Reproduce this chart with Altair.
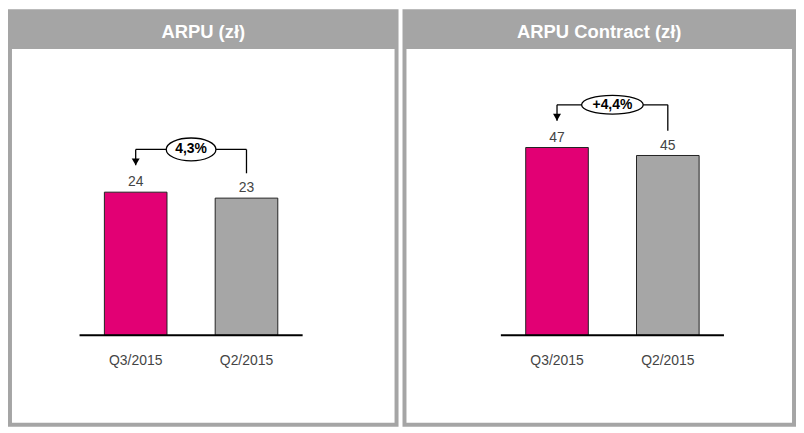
import altair as alt
import pandas as pd

# ---- data ----
categories = ["Q3/2015", "Q2/2015"]
positions = [0, 1]
arpu = [24, 23]
arpu_contract = [47, 45]
changes = ["4,3%", "+4,4%"]
titles = ["ARPU (zł)", "ARPU Contract (zł)"]

MAGENTA = "#E20074"
BARGRAY = "#A6A6A6"
FRAME = "#A5A5A5"
H = 420
HEADER = 40
ZERO_PX = 328


def panel(title, values, change, W, c0, c1, ppu, ell_w, ell_h):
    xs = alt.Scale(domain=[0, 1], range=[c0, c1], nice=False, zero=False, padding=0)
    ys = alt.Scale(domain=[0, 50], range=[ZERO_PX, ZERO_PX - 50 * ppu], nice=False, zero=False, padding=0)

    df = pd.DataFrame({"cat": categories, "pos": positions, "val": values, "base": [0, 0]})
    one = alt.Data(values=[{}])

    bg = alt.Chart(one).mark_rect(color=FRAME).encode(
        x=alt.value(0), x2=alt.value(W), y=alt.value(0), y2=alt.value(H))
    inner = alt.Chart(one).mark_rect(color="white").encode(
        x=alt.value(4), x2=alt.value(W - 4), y=alt.value(HEADER), y2=alt.value(H - 4))
    head = alt.Chart(one).mark_text(
        text=title, color="white", fontSize=18.5, fontWeight="bold", font="Liberation Sans",
        align="center", baseline="middle").encode(x=alt.value(W / 2), y=alt.value(23))

    bars = alt.Chart(df).mark_bar(size=63, stroke="#222", strokeWidth=1).encode(
        x=alt.X("pos:Q", scale=xs, axis=None),
        y=alt.Y("val:Q", scale=ys, axis=None),
        y2="base:Q",
        color=alt.Color("cat:N", scale=alt.Scale(domain=categories, range=[MAGENTA, BARGRAY]), legend=None),
    )
    base = alt.Chart(one).mark_rule(color="black", strokeWidth=2).encode(
        x=alt.value(c0 - 31.5 - 25), x2=alt.value(c1 + 31.5 + 25),
        y=alt.datum(0, scale=ys))
    vlabels = alt.Chart(df).mark_text(
        fontSize=14, color="#444", baseline="bottom", dy=-3, font="Liberation Sans").encode(
        x=alt.X("pos:Q", scale=xs), y=alt.Y("val:Q", scale=ys), text="val:Q")
    clabels = alt.Chart(df).mark_text(
        fontSize=14, color="#444", baseline="middle", font="Liberation Sans").encode(
        x=alt.X("pos:Q", scale=xs), y=alt.value(354), text="cat:N")

    line_v = values[0] + 43 / ppu
    tip_v = values[0] + 27 / ppu
    rend_v = values[1] + 25 / ppu
    rules_df = pd.DataFrame({
        "x": [0, 0, 1], "x2": [1, 0, 1],
        "y": [line_v, line_v, line_v], "y2": [line_v, tip_v, rend_v]})
    rules = alt.Chart(rules_df).mark_rule(color="black", strokeWidth=1.3).encode(
        x=alt.X("x:Q", scale=xs), x2="x2:Q", y=alt.Y("y:Q", scale=ys), y2="y2:Q")
    arrow = alt.Chart(pd.DataFrame({"x": [0], "y": [tip_v + 3.5 / ppu]})).mark_point(
        shape="triangle-down", size=64, filled=True, color="black", opacity=1).encode(
        x=alt.X("x:Q", scale=xs), y=alt.Y("y:Q", scale=ys))
    r = ell_h / ell_w
    ell_path = f"M-1,0A1,{r:.3f},0,1,1,1,0A1,{r:.3f},0,1,1,-1,0Z"
    ann_df = pd.DataFrame({"x": [0.5], "y": [line_v], "t": [change]})
    ell = alt.Chart(ann_df).mark_point(
        shape=ell_path, size=ell_w ** 2, filled=True, fill="white", stroke="black",
        strokeWidth=1.3, opacity=1).encode(
        x=alt.X("x:Q", scale=xs), y=alt.Y("y:Q", scale=ys))
    ell_t = alt.Chart(ann_df).mark_text(
        fontSize=14, fontWeight="bold", color="black", font="Liberation Sans",
        baseline="middle").encode(
        x=alt.X("x:Q", scale=xs), y=alt.Y("y:Q", scale=ys), text="t:N")

    return alt.layer(bg, inner, head, bars, base, vlabels, clabels, rules, arrow, ell, ell_t).properties(
        width=W, height=H)


left = panel(titles[0], arpu, changes[0], 393, 128.5, 240, 6.0, 50, 23)
right = panel(titles[1], arpu_contract, changes[1], 396, 155.5, 267, 4.02, 62, 19)

chart = alt.hconcat(left, right, spacing=4).properties(padding=0).configure_view(stroke=None)
chart.save("out.html", embed_options={"renderer": "svg", "actions": False})
